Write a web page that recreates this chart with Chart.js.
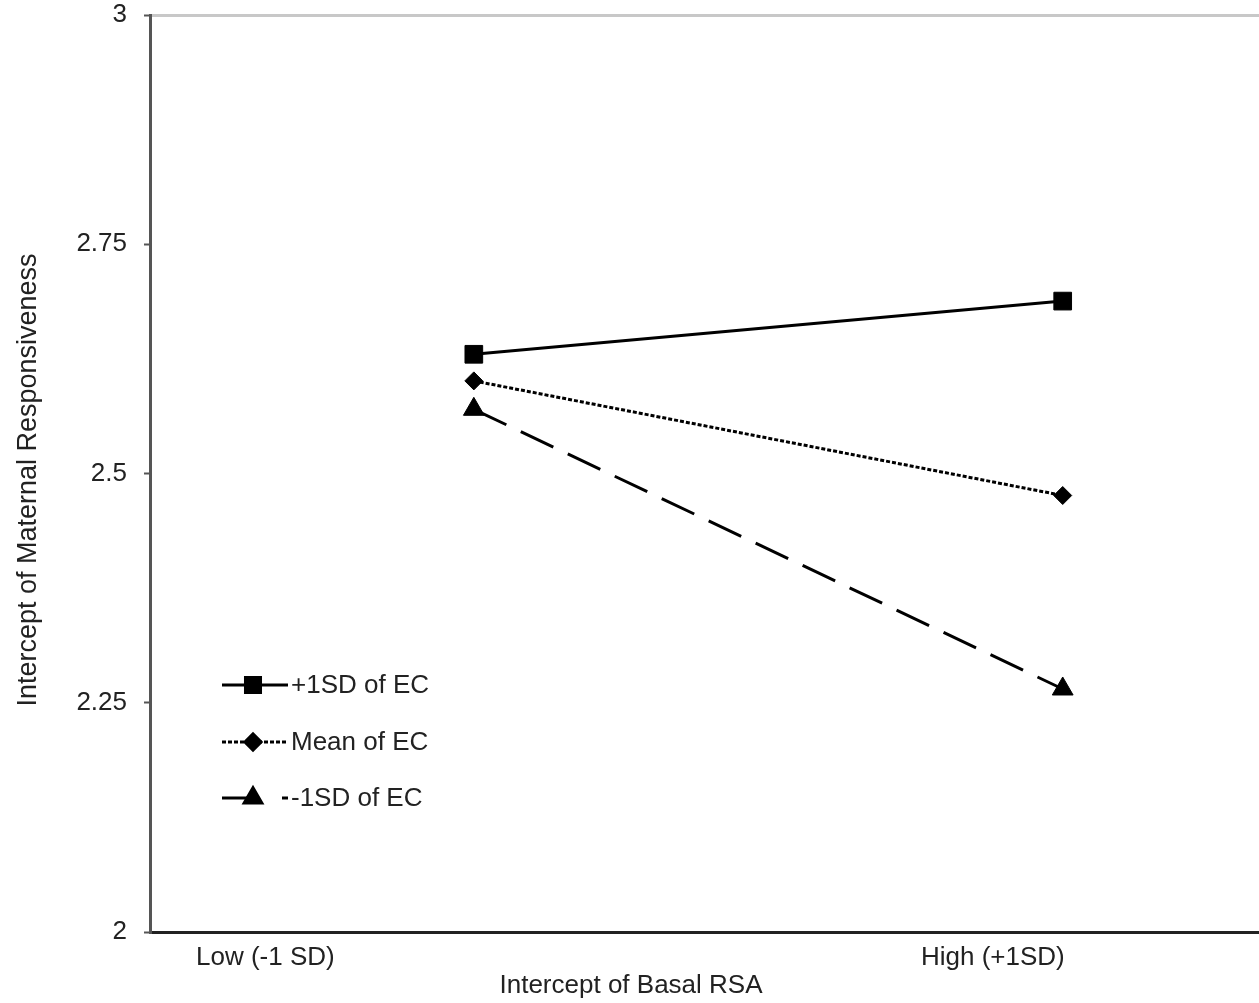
<!DOCTYPE html>
<html>
<head>
<meta charset="utf-8">
<script src="https://cdn.jsdelivr.net/npm/chart.js@4/dist/chart.umd.min.js"></script>
<style>
html,body{margin:0;padding:0;background:#fff;overflow:hidden;}
#wrap{width:1259px;height:1003px;position:relative;}
canvas{display:block;}
</style>
</head>
<body>
<div id="wrap"><canvas id="chart"></canvas></div>
<script>
// data
const xLabels = ["Low (-1 SD)", "High (+1SD)"];
const xLabelPos = [0.104, 0.760];
const xPoints = [0.292, 0.823];
const plusSD = [2.630, 2.688];
const meanEC = [2.601, 2.476];
const minusSD = [2.570, 2.265];
const yTicks = [2, 2.25, 2.5, 2.75, 3];
const seriesNames = ["+1SD of EC", "Mean of EC", "-1SD of EC"];

const FONT = "'Liberation Sans', Arial, sans-serif";
const toPts = arr => arr.map((v, i) => ({x: xPoints[i], y: v}));

const titlesAndLegend = {
    id: "titlesAndLegend",
    afterDraw(chart){
        const ctx = chart.ctx;
        ctx.save();
        ctx.fillStyle = "#222";
        ctx.font = "26px " + FONT;
        ctx.textAlign = "center";
        ctx.textBaseline = "middle";
        ctx.fillText("Intercept of Basal RSA", 631, 986);
        ctx.font = "27px " + FONT;
        ctx.translate(29, 480);
        ctx.rotate(-Math.PI/2);
        ctx.fillText("Intercept of Maternal Responsiveness", 0, 0);
        ctx.restore();

        // legend
        const rows = [685, 742, 798];
        chart.data.datasets.forEach((ds, i) => {
            const y = rows[i];
            ctx.save();
            ctx.strokeStyle = "#000";
            ctx.lineWidth = ds.borderWidth;
            ctx.setLineDash(i === 2 ? [28, 32] : (ds.borderDash || []));
            ctx.beginPath();
            ctx.moveTo(222, y);
            ctx.lineTo(288, y);
            ctx.stroke();
            ctx.setLineDash([]);
            ctx.fillStyle = "#000";
            Chart.helpers.drawPoint(ctx, {
                pointStyle: ds.pointStyle,
                radius: ds.pointRadius * (i === 1 ? 0.9 : 0.85),
                rotation: 0,
                borderWidth: 1
            }, 253, y);
            ctx.fillStyle = "#222";
            ctx.font = "26px " + FONT;
            ctx.textAlign = "left";
            ctx.textBaseline = "middle";
            ctx.fillText(ds.label, 291, y + 1);
            ctx.restore();
        });
    }
};

new Chart(document.getElementById("chart"), {
    type: "line",
    data: {
        datasets: [
            {
                label: seriesNames[0], data: toPts(plusSD),
                borderColor: "#000", borderWidth: 3,
                pointStyle: "rect", pointRadius: 12.5,
                pointBackgroundColor: "#000", pointBorderColor: "#000", pointBorderWidth: 1
            },
            {
                label: seriesNames[1], data: toPts(meanEC),
                borderColor: "#000", borderWidth: 3, borderDash: [4, 2],
                pointStyle: "rectRot", pointRadius: 9,
                pointBackgroundColor: "#000", pointBorderColor: "#000", pointBorderWidth: 1
            },
            {
                label: seriesNames[2], data: toPts(minusSD),
                borderColor: "#000", borderWidth: 3, borderDash: [36, 16],
                pointStyle: "triangle", pointRadius: 12,
                pointBackgroundColor: "#000", pointBorderColor: "#000", pointBorderWidth: 1
            }
        ]
    },
    options: {
        responsive: true,
        maintainAspectRatio: false,
        animation: false,
        layout: {autoPadding: false, padding: {top: 15, right: 0, left: 0, bottom: 0}},
        plugins: {legend: {display: false}, tooltip: {enabled: false}},
        scales: {
            x: {
                type: "linear", min: 0, max: 1,
                afterBuildTicks: s => { s.ticks = xLabelPos.map(v => ({value: v})); },
                afterFit: s => { s.height = 71; s.paddingLeft = 0; s.paddingRight = 0; },
                grid: {display: true, drawOnChartArea: false, drawTicks: false, color: "rgba(0,0,0,0)"},
                border: {color: "#222", width: 3},
                ticks: {
                    callback: (v, i) => xLabels[i],
                    font: {family: FONT, size: 26}, color: "#222",
                    padding: 10, maxRotation: 0, autoSkip: false
                }
            },
            y: {
                min: 2, max: 3,
                afterBuildTicks: s => { s.ticks = yTicks.map(v => ({value: v})); },
                afterFit: s => { s.width = 150; s.paddingTop = 0; s.paddingBottom = 0; },
                grid: {
                    color: c => (c.tick && c.tick.value === 3) ? "#c8c8c8" : "rgba(0,0,0,0)",
                    lineWidth: 3,
                    tickColor: "#555", tickLength: 6, tickWidth: 2
                },
                border: {color: "#555", width: 3},
                ticks: {
                    callback: v => String(v),
                    font: {family: FONT, size: 26}, color: "#222",
                    padding: 17, autoSkip: false
                }
            }
        }
    },
    plugins: [titlesAndLegend]
});
</script>
</body>
</html>
